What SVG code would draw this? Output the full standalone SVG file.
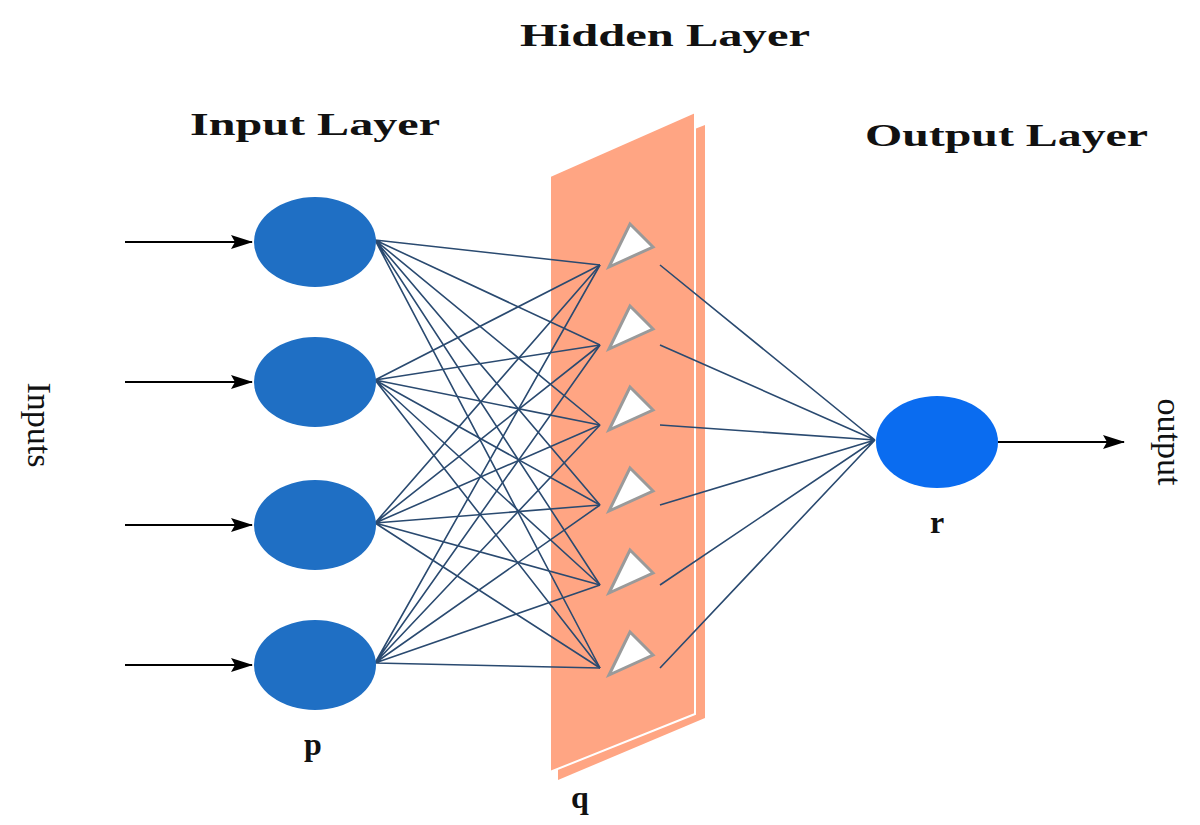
<svg xmlns="http://www.w3.org/2000/svg" width="1200" height="825" viewBox="0 0 1200 825">
<defs>
<marker id="ah" markerWidth="22" markerHeight="14" refX="21" refY="7" orient="auto" markerUnits="userSpaceOnUse"><path d="M0,0 L22,7 L0,14 L4,7 Z" fill="#000"/></marker>
</defs>
<style>
.t{font-family:"Liberation Serif","DejaVu Serif",serif;font-weight:bold;fill:#111}
.r{font-family:"Liberation Serif","DejaVu Serif",serif;fill:#111}
.in{fill:#1f6fc4}
.w{stroke:#2a4a70;stroke-width:1.6;fill:none}
.tri{fill:#fff;stroke:#9a9a9a;stroke-width:3}
.ar{stroke:#000;stroke-width:2;marker-end:url(#ah)}
</style>
<rect width="1200" height="825" fill="#fff"/>
<g id="hidden-panel">
<polygon points="558,182 705,125 705,718 558,780" fill="#ffa583"/>
<polygon points="550,176 695,112 695,714 550,772" fill="#ffa583" stroke="#fff" stroke-width="2"/>
</g>
<g id="connectors">
<g class="w">
<path d="M375,240L600,265M375,240L600,345M375,240L600,425M375,240L600,505M375,240L600,585M375,240L600,668"/>
<path d="M375,380L600,265M375,380L600,345M375,380L600,425M375,380L600,505M375,380L600,585M375,380L600,668"/>
<path d="M375,523L600,265M375,523L600,345M375,523L600,425M375,523L600,505M375,523L600,585M375,523L600,668"/>
<path d="M375,663L600,265M375,663L600,345M375,663L600,425M375,663L600,505M375,663L600,585M375,663L600,668"/>
<path d="M660,265L875,440M660,345L875,440M660,425L875,440M660,505L875,440M660,585L875,440M660,668L875,440"/>
</g>
<line class="ar" x1="125" y1="242" x2="252" y2="242"/>
<line class="ar" x1="125" y1="382" x2="252" y2="382"/>
<line class="ar" x1="125" y1="525" x2="252" y2="525"/>
<line class="ar" x1="125" y1="665" x2="252" y2="665"/>
<line class="ar" x1="998" y1="442" x2="1124" y2="442"/>
</g>
<g id="input1"><ellipse class="in" cx="315" cy="242" rx="61" ry="45"/></g>
<g id="input2"><ellipse class="in" cx="315" cy="382" rx="61" ry="45"/></g>
<g id="input3"><ellipse class="in" cx="315" cy="525" rx="61" ry="45"/></g>
<g id="input4"><ellipse class="in" cx="315" cy="665" rx="61" ry="45"/></g>
<g id="hidden1"><polygon class="tri" points="630,224 653,247 609,267"/></g>
<g id="hidden2"><polygon class="tri" points="630,306 653,329 609,349"/></g>
<g id="hidden3"><polygon class="tri" points="630,387 653,410 609,430"/></g>
<g id="hidden4"><polygon class="tri" points="630,468 653,491 609,511"/></g>
<g id="hidden5"><polygon class="tri" points="630,550 653,573 609,593"/></g>
<g id="hidden6"><polygon class="tri" points="630,632 653,655 609,675"/></g>
<g id="output-node"><ellipse cx="937" cy="442" rx="61" ry="46" fill="#0a6cf0"/></g>
<g id="labels">
<text class="t" x="520" y="46" font-size="32" textLength="290" lengthAdjust="spacingAndGlyphs">Hidden Layer</text>
<text class="t" x="190" y="135" font-size="32" textLength="250" lengthAdjust="spacingAndGlyphs">Input Layer</text>
<text class="t" x="865" y="146" font-size="32" textLength="283" lengthAdjust="spacingAndGlyphs">Output Layer</text>
<text class="t" x="313" y="755" font-size="32" text-anchor="middle">p</text>
<text class="t" x="580" y="808" font-size="32" text-anchor="middle">q</text>
<text class="t" x="937" y="533" font-size="32" text-anchor="middle">r</text>
<text class="r" transform="translate(28,425) rotate(90)" font-size="34" text-anchor="middle">Inputs</text>
<text class="r" transform="translate(1158,442) rotate(90)" font-size="34" text-anchor="middle">output</text>
</g>
</svg>
